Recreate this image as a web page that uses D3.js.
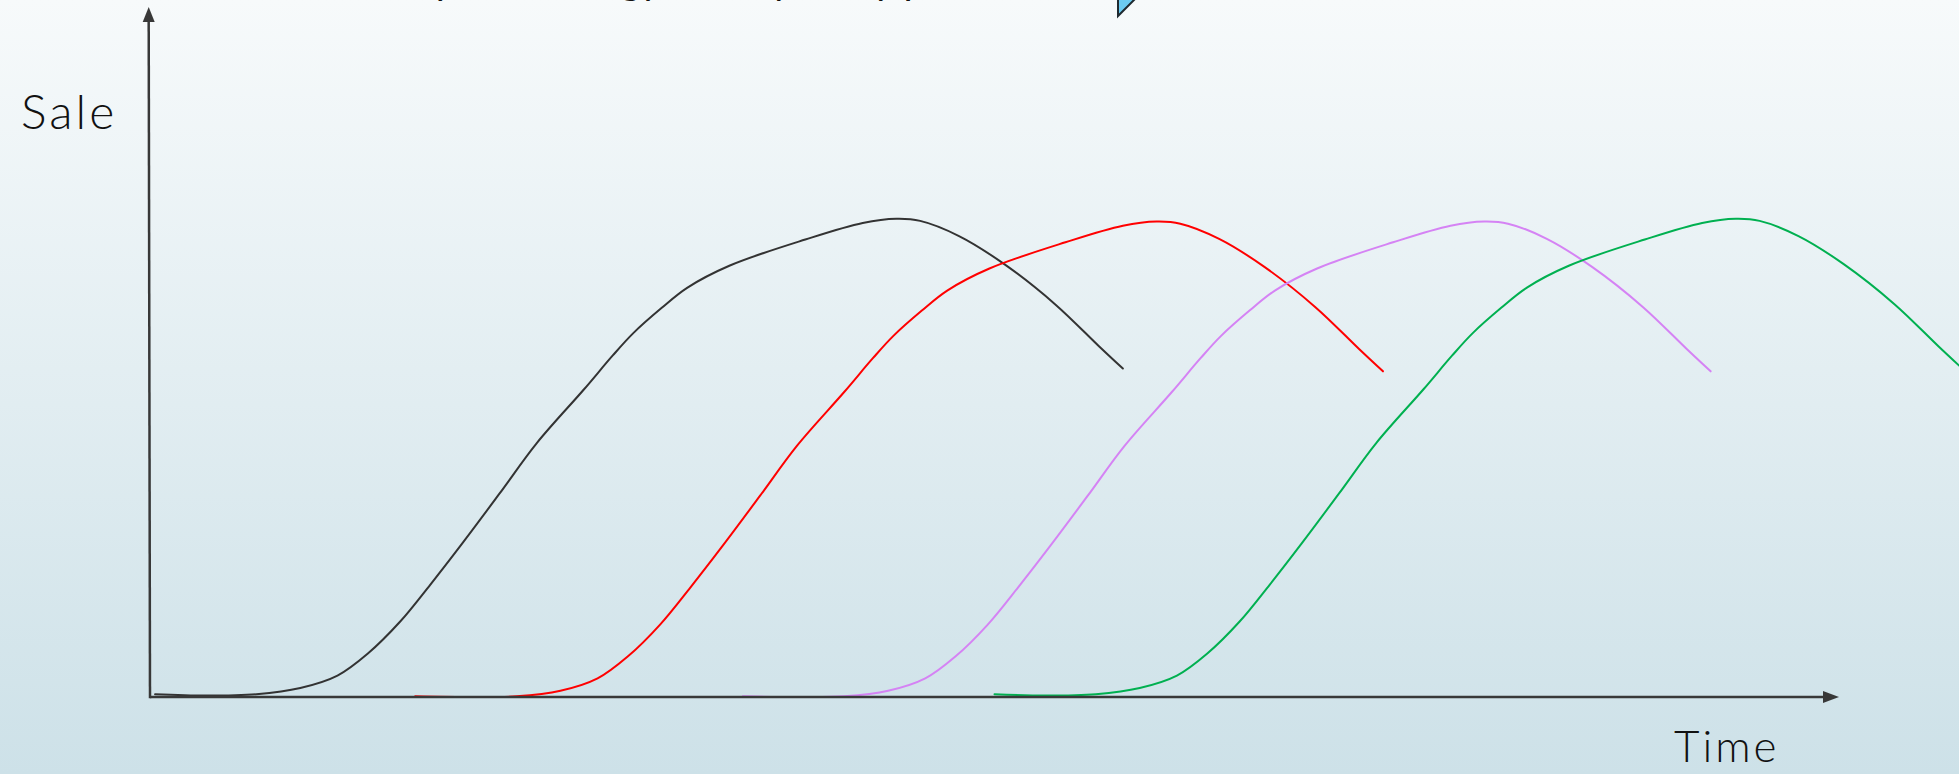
<!DOCTYPE html>
<html><head><meta charset="utf-8">
<script src="https://cdn.jsdelivr.net/npm/d3@7"></script>
<style>html,body{margin:0;padding:0;overflow:hidden;background:#fff;} svg{display:block;}</style>
</head><body>
<script>
// ---- data (time units 0..100 along the x arrow, sale units 0..100 along the y arrow) ----
const titleText = "Sales by Technology Life Cycle by product";
const xLabel = "Time";
const yLabel = "Sale";
const seriesNames = ["Product A", "Product B", "Product C", "Product D"];
const seriesColors = ["#333333", "#ff0000", "#d583f4", "#00b050"];

const blackTime = [0.3, 3.3, 6.3, 8.9, 11.1, 12.9, 14.8, 16.6, 18.5, 20.7, 22.9, 25.7, 27.4, 28.6, 30.3, 31.8, 34.3, 38.8, 42.2, 44.2, 45.6, 47.9, 50.6, 53.6, 56.2, 57.6];
const blackSale = [0.4, 0.2, 0.4, 1.3, 3.1, 6.3, 10.9, 16.3, 22.3, 29.5, 36.8, 44.6, 49.5, 52.7, 56.4, 59.3, 62.5, 66.3, 68.7, 69.3, 69.0, 66.8, 62.7, 56.9, 50.8, 47.6];

const redTime = [15.7, 18.7, 21.7, 24.3, 26.5, 28.3, 30.2, 32.0, 33.9, 36.1, 38.3, 41.1, 42.8, 44.0, 45.7, 47.2, 49.7, 54.2, 57.6, 59.6, 61.0, 63.3, 66.0, 69.0, 71.6, 73.0];
const redSale = [0.1, 0.0, 0.1, 0.9, 2.7, 5.9, 10.5, 15.9, 21.9, 29.1, 36.4, 44.2, 49.1, 52.3, 56.0, 58.9, 62.1, 65.9, 68.3, 68.9, 68.6, 66.4, 62.3, 56.5, 50.4, 47.2];

const purpleTime = [35.1, 38.1, 41.1, 43.7, 45.9, 47.7, 49.6, 51.4, 53.3, 55.5, 57.7, 60.5, 62.2, 63.4, 65.1, 66.6, 69.1, 73.6, 77.0, 79.0, 80.4, 82.7, 85.4, 88.4, 91.0, 92.4];
const purpleSale = [0.1, 0.0, 0.1, 0.9, 2.7, 5.9, 10.5, 15.9, 21.9, 29.1, 36.4, 44.2, 49.1, 52.3, 56.0, 58.9, 62.1, 65.9, 68.3, 68.9, 68.6, 66.4, 62.3, 56.5, 50.4, 47.2];

const greenTime = [50.0, 53.0, 56.0, 58.6, 60.8, 62.6, 64.5, 66.3, 68.2, 70.4, 72.6, 75.4, 77.1, 78.3, 80.0, 81.5, 84.0, 88.5, 91.9, 93.9, 95.3, 97.6, 100.3, 103.3, 105.9, 107.3];
const greenSale = [0.4, 0.2, 0.4, 1.3, 3.1, 6.3, 10.9, 16.3, 22.3, 29.5, 36.8, 44.6, 49.5, 52.7, 56.4, 59.3, 62.5, 66.3, 68.7, 69.3, 69.0, 66.8, 62.7, 56.9, 50.8, 47.6];

// ---- drawing ----
const W = 1959, H = 774;
const svg = d3.select("body").append("svg").attr("width", W).attr("height", H);
const defs = svg.append("defs");
const grad = defs.append("linearGradient").attr("id", "bg").attr("x1", 0).attr("y1", 0).attr("x2", 0).attr("y2", 1);
grad.append("stop").attr("offset", "0%").attr("stop-color", "#f7fafb");
grad.append("stop").attr("offset", "100%").attr("stop-color", "#cde1e8");
svg.append("rect").attr("width", W).attr("height", H).attr("fill", "url(#bg)");

const x = d3.scaleLinear().domain([0, 100]).range([150, 1839]);
const y = d3.scaleLinear().domain([0, 100]).range([697, 7]);

// cut-off title (only descenders visible at the top edge)
svg.append("text").attr("x", 312).attr("y", -6)
  .attr("font-family", "Lato, 'DejaVu Sans', sans-serif").attr("font-size", 40)
  .attr("fill", "#111").text(titleText);

// cut-off callout shape at the top
svg.append("path").attr("d", "M1118,-6 L1118,16 L1138,-4 Z")
  .attr("fill", "#6ccbf1").attr("stroke", "#1f2a30").attr("stroke-width", 2);

// series
const series = [
  {name: seriesNames[0], color: seriesColors[0], t: blackTime, s: blackSale},
  {name: seriesNames[1], color: seriesColors[1], t: redTime, s: redSale},
  {name: seriesNames[2], color: seriesColors[2], t: purpleTime, s: purpleSale},
  {name: seriesNames[3], color: seriesColors[3], t: greenTime, s: greenSale}
];
const line = d3.line().x(d => x(d[0])).y(d => y(d[1])).curve(d3.curveCatmullRom.alpha(0.5));
svg.append("g").selectAll("path").data(series).join("path")
  .attr("d", d => line(d.t.map((t, i) => [t, d.s[i]])))
  .attr("fill", "none").attr("stroke", d => d.color).attr("stroke-width", 2)
  .attr("stroke-linecap", "round");

// axes (arrows)
const axisColor = "#383838";
const ax = svg.append("g");
ax.append("line").attr("x1", x(0)).attr("y1", y(0)).attr("x2", x(100) - 14).attr("y2", y(0))
  .attr("stroke", axisColor).attr("stroke-width", 2.5);
ax.append("path").attr("d", d3.line()([[x(100), y(0)], [x(100) - 16, y(0) - 6], [x(100) - 16, y(0) + 6]]) + "Z")
  .attr("fill", axisColor);
ax.append("line").attr("x1", x(0)).attr("y1", y(0) + 1.2).attr("x2", x(0) - 1.3).attr("y2", y(100) + 14)
  .attr("stroke", axisColor).attr("stroke-width", 2.5);
ax.append("path").attr("d", d3.line()([[x(0) - 1.3, y(100)], [x(0) - 7.3, y(100) + 15], [x(0) + 4.7, y(100) + 15]]) + "Z")
  .attr("fill", axisColor);

// axis labels
svg.append("text").attr("x", 21).attr("y", 129)
  .attr("font-family", "Lato, 'DejaVu Sans', sans-serif").attr("font-size", 48).attr("font-weight", 300)
  .attr("letter-spacing", 3).attr("fill", "#111").text(yLabel);
svg.append("text").attr("x", 1674).attr("y", 762)
  .attr("font-family", "Lato, 'DejaVu Sans', sans-serif").attr("font-size", 44).attr("font-weight", 300)
  .attr("letter-spacing", 3).attr("fill", "#111").text(xLabel);
</script>
</body></html>
